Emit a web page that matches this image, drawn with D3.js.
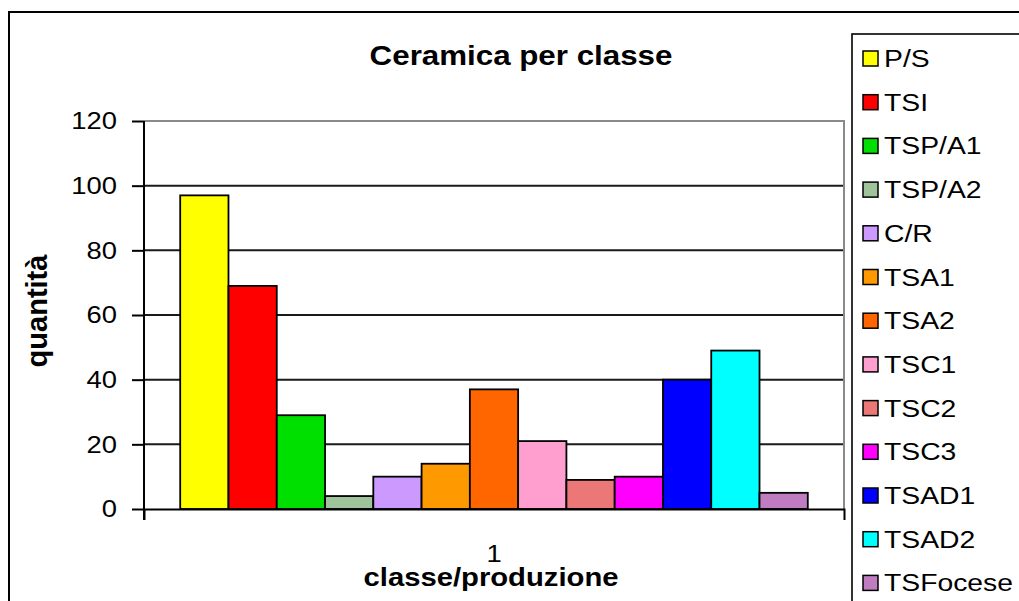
<!DOCTYPE html>
<html><head><meta charset="utf-8">
<script src="https://cdn.jsdelivr.net/npm/d3@7"></script>
<style>
body{margin:0;background:#fff}
svg{display:block}
text{font-family:"Liberation Sans",Arial,sans-serif;fill:#000}
</style>
</head><body>
<svg id="chart" width="1019" height="601"></svg>
<script>
const categories = ["1"];
const series = ["P/S","TSI","TSP/A1","TSP/A2","C/R","TSA1","TSA2","TSC1","TSC2","TSC3","TSAD1","TSAD2","TSFocese"];
const values = [97,69,29,4,10,14,37,21,9,10,40,49,5];
const colors = ["#FFFF00","#FF0000","#00E000","#9FC49C","#CC99FF","#FF9900","#FF6600","#FF9FCF","#EB7777","#FF00FF","#0000FF","#00FFFF","#C07CC0"];
const yTicks = [0,20,40,60,80,100,120];
const chartTitle = "Ceramica per classe";
const xTitle = "classe/produzione";
const yTitle = "quantità";

const svg = d3.select("#chart");
const W = 1019, H = 601;
const plot = {left:144, right:844, top:121, bottom:509};

function stretch(sx){
  return function(sel){
    sel.each(function(){
      const t = d3.select(this);
      const x = +t.attr("x") || 0, y = +t.attr("y") || 0;
      t.attr("transform", `translate(${x},${y}) scale(${sx},1)`).attr("x",0).attr("y",0);
    });
  };
}

// outer chart border
svg.append("rect").attr("x",9).attr("y",12).attr("width",W+20).attr("height",H+20)
  .attr("fill","none").attr("stroke","#000").attr("stroke-width",2);

const y = d3.scaleLinear().domain([0,120]).range([plot.bottom, plot.top]);
const x0 = d3.scaleBand().domain(categories).range([plot.left, plot.right])
  .paddingInner(0).paddingOuter(0.75/series.length);
const x1 = d3.scaleBand().domain(series).range([0, x0.bandwidth()]).padding(0);

// gridlines
svg.append("g").selectAll("line").data(yTicks.filter(d=>d>0 && d<120)).join("line")
  .attr("x1",plot.left).attr("x2",plot.right)
  .attr("y1",d=>y(d)).attr("y2",d=>y(d))
  .attr("stroke","#1a1a1a").attr("stroke-width",2);
// top and right plot border (gray)
svg.append("path")
  .attr("d",`M${plot.left},${y(120)}H${plot.right}V${plot.bottom}`)
  .attr("fill","none").attr("stroke","#8a8a8a").attr("stroke-width",2);

// bars
svg.append("g").selectAll("g").data(categories).join("g")
  .attr("transform",c=>`translate(${x0(c)},0)`)
  .selectAll("rect").data(series.map((s,i)=>({s, v:values[i], c:colors[i]}))).join("rect")
  .attr("x",d=>x1(d.s)).attr("width",x1.bandwidth())
  .attr("y",d=>y(d.v)).attr("height",d=>y(0)-y(d.v))
  .attr("fill",d=>d.c).attr("stroke","#000").attr("stroke-width",1.8);

// y axis
const yAxis = svg.append("g").attr("transform",`translate(${plot.left},0)`)
  .call(d3.axisLeft(y).tickValues(yTicks).tickSizeInner(12).tickSizeOuter(0).tickPadding(15));
yAxis.select(".domain").remove();
yAxis.selectAll(".tick line").attr("stroke","#000").attr("stroke-width",2);
yAxis.append("line").attr("x1",0).attr("x2",0).attr("y1",plot.top).attr("y2",plot.bottom+11)
  .attr("stroke","#000").attr("stroke-width",2);
yAxis.selectAll(".tick text").attr("font-size",24).attr("fill","#000")
  .attr("font-family","Liberation Sans, Arial, sans-serif").attr("dy","0.33em").attr("x",-27)
  .call(stretch(1.14));

// x axis
const xAxis = svg.append("g").attr("transform",`translate(0,${plot.bottom})`)
  .call(d3.axisBottom(x0).tickSizeInner(0).tickSizeOuter(11).tickPadding(0));
xAxis.select(".domain").attr("stroke","#000").attr("stroke-width",2);
xAxis.selectAll(".tick text").attr("font-size",24).attr("fill","#000")
  .attr("font-family","Liberation Sans, Arial, sans-serif").attr("dy",0).attr("y",53)
  .call(stretch(1.14));

// titles
svg.append("text").attr("x",521).attr("y",65).attr("text-anchor","middle")
  .attr("font-weight","bold").attr("font-size",27).text(chartTitle).call(stretch(1.16));
svg.append("text").attr("x",491).attr("y",586).attr("text-anchor","middle")
  .attr("font-weight","bold").attr("font-size",25).text(xTitle).call(stretch(1.17));
svg.append("text").attr("transform","translate(47,311) rotate(-90)").attr("text-anchor","middle")
  .attr("font-weight","bold").attr("font-size",29).text(yTitle);

// legend
svg.append("rect").attr("x",852).attr("y",34).attr("width",200).attr("height",620)
  .attr("fill","#fff").attr("stroke","#000").attr("stroke-width",1.6);
const lg = svg.append("g").selectAll("g").data(series).join("g")
  .attr("transform",(d,i)=>`translate(0,${58.5 + i*43.7})`);
lg.append("rect").attr("x",863).attr("y",-7.5).attr("width",15).attr("height",15)
  .attr("fill",(d,i)=>colors[i]).attr("stroke","#000").attr("stroke-width",1.5);
lg.append("text").attr("x",884).attr("y",8.5).attr("font-size",24).text(d=>d).call(stretch(1.18));
</script>
</body></html>
